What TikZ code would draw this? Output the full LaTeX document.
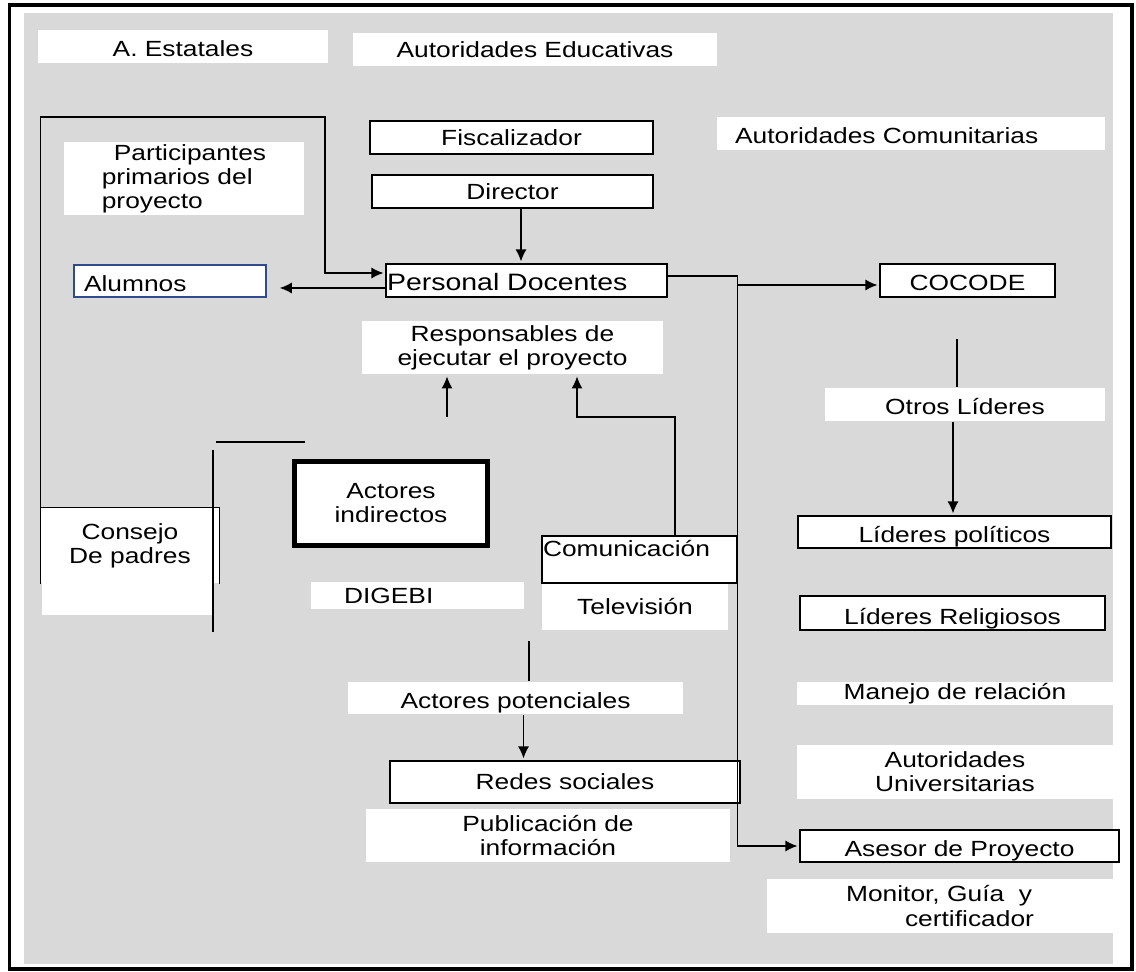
\documentclass[tikz,border=0pt]{standalone}
\usepackage{fontspec}
\setmainfont[FakeStretch=1.2]{Liberation Sans}
\usetikzlibrary{arrows.meta}
\definecolor{fondo}{RGB}{217,217,217}
\definecolor{azulborde}{RGB}{47,75,140}

\begin{document}
\begin{tikzpicture}[x=0.02cm,y=-0.02cm,>={Latex[length=0.24cm,width=0.22cm]},line width=0.8pt,font=\fontsize{12.5}{13.7}\selectfont,caja/.style={draw,fill=white,inner sep=0pt,line width=0.9pt},blanco/.style={fill=white,inner sep=0pt},linea/.style={text height=0.48cm,text depth=0.06cm},flecha/.style={->,shorten >=1pt},izq/.style={align=left,text width=#1}]
		\useasboundingbox (0,0) rectangle (1136,972);
		\fill[white] (0,0) rectangle (1136,972);
		\fill[fondo] (24,13) rectangle (1113,964);
		\draw[line width=0.08cm] (9.5,5.5) rectangle (1131.5,969);

		\node[blanco,linea,minimum width=5.8cm,minimum height=0.66cm] (estatales) at (183,46.5) {A. Estatales};
		\node[blanco,minimum width=7.28cm,minimum height=0.66cm] (educativas) at (535,49.5) {Autoridades Educativas};
		\node[blanco,minimum width=4.8cm,minimum height=1.46cm,align=left] (participantes) at (184,178.5) {\hspace{0.24cm}Participantes\\primarios del\\proyecto};
		\node[caja,minimum width=5.66cm,minimum height=0.66cm] (fiscalizador) at (511.5,137.5) {Fiscalizador};
		\node[caja,minimum width=5.62cm,minimum height=0.66cm] (director) at (512.5,191.5) {Director};
		\node[blanco,linea,minimum height=0.66cm,inner xsep=0.36cm,izq=7.04cm] (comunitarias) at (911,133.5) {Autoridades Comunitarias};
		\node[caja,linea,minimum height=0.66cm,inner xsep=0.02cm,izq=5.58cm,font=\fontsize{13.5}{15}\selectfont] (docentes) at (526.5,280.5) {Personal Docentes};
		\node[caja,linea,draw=azulborde,minimum height=0.64cm,inner xsep=0.2cm,izq=3.44cm] (alumnos) at (170,281) {Alumnos};
		\node[caja,linea,minimum width=3.5cm,minimum height=0.66cm] (cocode) at (967.5,280.5) {COCODE};
		\node[blanco,minimum width=6.02cm,minimum height=1.06cm,align=center] (responsables) at (512.5,347.5) {Responsables de\\ejecutar el proyecto};
		\node[blanco,draw,line width=0.1cm,minimum width=3.86cm,minimum height=1.68cm,align=center] (indirectos) at (391,503.5) {Actores\\indirectos};
		\fill[white] (42,583) rectangle (214,615);
		\node[blanco,minimum width=3.56cm,minimum height=1.5cm,align=center] (consejo) at (130,545.5) {Consejo\\De padres};
		\node[blanco,minimum height=0.54cm,inner xsep=0.66cm,izq=2.94cm] (digebi) at (417.5,595.5) {DIGEBI};
		\node[blanco,minimum width=3.72cm,minimum height=0.92cm] (television) at (635,607) {Televisión};
		\node[caja,minimum height=0.94cm,inner xsep=0.02cm,izq=3.86cm,text depth=0.45cm] (comunicacion) at (639.5,559.5) {Comunicación};
		\node[blanco,linea,minimum width=6.7cm,minimum height=0.64cm] (potenciales) at (515.5,698) {Actores potenciales};
		\node[caja,minimum width=7cm,minimum height=0.84cm] (redes) at (565,782) {Redes sociales};
		\node[blanco,minimum width=7.28cm,minimum height=1.06cm,align=center] (publicacion) at (548,835.5) {Publicación de\\información};
		\node[blanco,linea,minimum width=5.6cm,minimum height=0.66cm] (otros) at (965,404.5) {Otros Líderes};
		\node[caja,linea,minimum width=6.26cm,minimum height=0.64cm] (politicos) at (954.5,532) {Líderes políticos};
		\node[caja,minimum width=6.1cm,minimum height=0.68cm,text height=0.55cm] (religiosos) at (952.5,613) {Líderes Religiosos};
		\node[blanco,minimum width=6.32cm,minimum height=0.46cm] (manejo) at (955,693.5) {Manejo de relación};
		\node[blanco,minimum width=6.32cm,minimum height=1.08cm,align=center] (universitarias) at (955,772) {Autoridades\\Universitarias};
		\node[caja,linea,minimum width=6.38cm,minimum height=0.64cm] (asesor) at (959.5,846) {Asesor de Proyecto};
		\node[blanco,minimum width=6.92cm,minimum height=1.08cm,align=left] (monitor) at (940,906) {Monitor, Guía\ \ y\\\hspace{1.18cm}certificador};

		\coordinate (codo) at (325,117);
		\coordinate (r1) at (447,417);
		\coordinate (r2) at (577,417);
		\coordinate (o1) at (957,339);
		\coordinate (p1) at (529,641);
		\coordinate (s1) at (213,450);
		\coordinate (s2) at (213,632);
		\coordinate (s3) at (216,442);
		\coordinate (s4) at (305,442);

		\draw[flecha] ([xshift=0.17cm]director.south) -- ([xshift=0.17cm]director.south |- docentes.north);
		\draw[flecha] (consejo.south west) |- (codo) |- ([yshift=0.15cm]docentes.west);
		\draw (consejo.north west) -- (consejo.north east) -- (consejo.south east);
		\draw[flecha,shorten >=0.26cm] ([yshift=-0.15cm]docentes.west) -- ([yshift=-0.15cm]docentes.west -| alumnos.east);
		\draw[flecha] ([yshift=0.09cm]docentes.east) -| (comunicacion.north east) |- (asesor.west);
		\draw[flecha] ([yshift=-0.09cm]cocode.west -| comunicacion.east) -- ([yshift=-0.09cm]cocode.west);
		\draw[flecha] (r1) -- (r1 |- responsables.south);
		\draw[flecha] ([xshift=0.71cm]comunicacion.north) |- (r2) -- (r2 |- responsables.south);
		\draw (o1) -- (o1 |- otros.north);
		\draw[flecha] ([xshift=-0.24cm]otros.south) -- ([xshift=-0.24cm]otros.south |- politicos.north);
		\draw (p1) -- (p1 |- potenciales.north);
		\draw[flecha] ([xshift=0.16cm]potenciales.south) -- ([xshift=0.16cm]potenciales.south |- redes.north);
		\draw (s1) -- (s2);
		\draw (s3) -- (s4);

		\end{tikzpicture}
\end{document}
